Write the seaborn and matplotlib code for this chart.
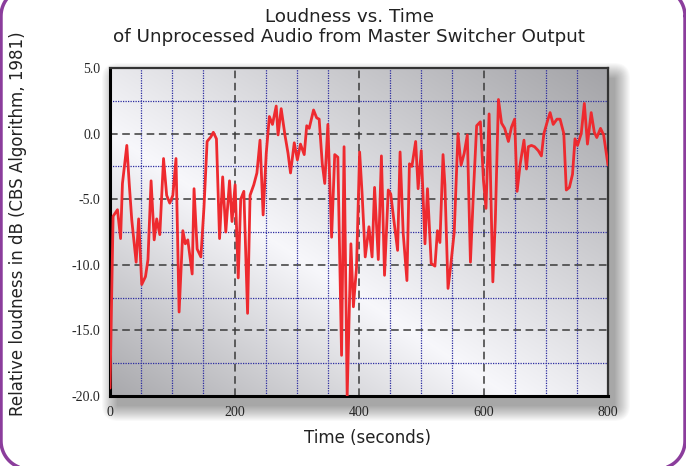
import numpy as np
import pandas as pd
import matplotlib
matplotlib.use("Agg")
import matplotlib.pyplot as plt
import seaborn as sns
from matplotlib.patches import FancyBboxPatch
from matplotlib.ticker import MultipleLocator, FuncFormatter

# Loudness trace (seconds, dB)
time_s = [0, 5, 12, 17, 20, 27, 31, 35, 42, 46, 51, 57, 61, 66, 71, 75, 80, 86, 91, 96,
          101, 106, 111, 117, 121, 125, 132, 135, 140, 146, 151, 156, 162, 166, 171, 176,
          181, 186, 192, 196, 201, 206, 210, 215, 221, 225, 231, 236, 241, 246, 251, 256,
          261, 267, 270, 275, 281, 286, 290, 296, 301, 306, 312, 316, 320, 327, 332, 336,
          341, 345, 350, 356, 361, 366, 372, 376, 381, 387, 391, 396, 401, 405, 410, 416,
          421, 425, 431, 436, 441, 447, 451, 456, 462, 466, 471, 477, 481, 485, 491, 495,
          500, 506, 510, 516, 522, 526, 530, 535, 538, 543, 547, 553, 559, 564, 569, 574,
          579, 584, 589, 595, 600, 604, 609, 615, 619, 624, 629, 634, 640, 645, 650, 654,
          659, 665, 669, 672, 677, 682, 688, 693, 697, 703, 707, 712, 718, 723, 729, 733,
          738, 743, 747, 751, 757, 762, 767, 773, 778, 782, 788, 793, 800]
loudness_db = [-19.4, -6.3, -5.8, -8.0, -3.8, -0.9, -3.9, -6.6, -9.8, -6.5, -11.5, -10.9,
               -9.6, -3.6, -8.1, -6.5, -7.7, -1.9, -4.7, -5.3, -4.7, -1.9, -13.6, -7.4,
               -8.4, -8.1, -10.7, -4.2, -8.8, -9.4, -5.6, -0.6, -0.25, 0.1, -0.4, -8.0,
               -3.3, -7.5, -3.6, -6.7, -3.9, -11.0, -5.0, -4.4, -13.7, -4.7, -3.9, -3.0,
               -0.5, -6.2, -1.5, 1.3, 0.7, 2.1, -0.1, 1.9, -0.1, -1.5, -3.0, -0.7, -2.0,
               -0.8, -1.6, 0.6, 0.4, 1.8, 1.2, 1.1, -2.3, -3.8, 0.7, -7.9, -1.6, -1.8,
               -16.9, -1.0, -20.0, -8.4, -13.2, -10.2, -1.4, -4.6, -9.4, -7.1, -9.4, -4.1,
               -9.6, -1.7, -10.8, -4.3, -4.6, -6.6, -8.9, -1.4, -7.6, -11.2, -2.3, -2.5,
               -0.6, -4.2, -1.3, -8.4, -4.2, -9.9, -10.1, -7.4, -8.3, -1.6, -3.9, -11.8,
               -10.2, -7.5, 0.0, -2.4, -1.5, -0.1, -9.8, -4.3, 0.6, 0.9, -3.6, -5.7, 1.5,
               -11.3, -6.6, 2.6, 0.8, 0.4, -0.6, 0.5, 1.1, -4.4, -2.3, -0.5, -2.7, -1.0,
               -0.9, -1.0, -1.3, -1.7, 0.0, 1.0, 1.6, 0.7, 1.1, 1.1, 0.0, -4.3, -4.1, -3.1,
               -0.4, -0.9, 0.0, 2.3, -0.8, 1.6, 0.1, -0.3, 0.4, -0.1, -2.4]

df = pd.DataFrame({"time": time_s, "loudness": loudness_db})

sns.set_style("white")
plt.rcParams["font.family"] = ["DejaVu Sans"]
plt.rcParams["axes.unicode_minus"] = False

W, H = 686, 466
fig = plt.figure(figsize=(W / 100, H / 100), dpi=100)
fig.patch.set_facecolor("white")

# pixel-space layer for shadow + purple frame
bg = fig.add_axes([0, 0, 1, 1], zorder=0)
bg.set_xlim(0, W)
bg.set_ylim(0, H)
bg.axis("off")

L, R, B, T = 110, 608, 70, 398
for i in range(16):
    bg.add_patch(FancyBboxPatch((L + 7 - i, B - 10 - i), (R - L) + 2 * i, (T - B) + 2 * i,
                                boxstyle=f"round,pad=0,rounding_size={i + 1}",
                                fc="black", ec="none", alpha=0.022))

# rounded purple frame, built from four quarter arcs
def rounded_outline(x0, y0, x1, y1, r):
    pts = []
    corners = [(x1 - r, y1 - r, 0), (x0 + r, y1 - r, 90), (x0 + r, y0 + r, 180), (x1 - r, y0 + r, 270)]
    for cx, cy, a0 in corners:
        a = np.radians(np.linspace(a0, a0 + 90, 20))
        pts.extend(zip(cx + r * np.cos(a), cy + r * np.sin(a)))
    pts.append(pts[0])
    return np.array(pts)

frame = rounded_outline(1, -3, 685, 478, 28)
bg.plot(frame[:, 0], frame[:, 1], color="#8b3d9c", lw=2.5, clip_on=False,
        solid_joinstyle="round")

ax = fig.add_axes([L / W, B / H, (R - L) / W, (T - B) / H], zorder=1)

# grey diagonal gradient behind the plot
u, v = np.meshgrid(np.linspace(0, 1, 240), np.linspace(0, 1, 160))
d = (u + v) / 2
g = np.interp(d, [0, 0.4, 1], [0.66, 0.97, 0.64])
img = np.dstack([g, g, np.minimum(g + 0.015, 1)])
ax.imshow(img, extent=[0, 800, -20, 5], origin="lower", aspect="auto",
          interpolation="bilinear", zorder=0)

sns.lineplot(data=df, x="time", y="loudness", ax=ax, color="#ee2a2f", lw=2,
             estimator=None, sort=False, zorder=3)

ax.set_xlim(0, 800)
ax.set_ylim(-20, 5)
ax.xaxis.set_major_locator(MultipleLocator(200))
ax.xaxis.set_minor_locator(MultipleLocator(50))
ax.yaxis.set_major_locator(MultipleLocator(5))
ax.yaxis.set_minor_locator(MultipleLocator(2.5))
ax.xaxis.set_major_formatter(FuncFormatter(lambda x, p: f"{x:.0f}"))
ax.yaxis.set_major_formatter(FuncFormatter(lambda y, p: f"{y:.1f}"))

ax.set_axisbelow(True)
ax.grid(which="major", color="#3a3a3a", ls=(0, (5, 3)), lw=1.1)
ax.grid(which="minor", color="#2b2ba0", ls=(0, (1, 1)), lw=0.9)

ax.tick_params(which="both", direction="in", color="black", width=1,
               labelsize=10, labelfontfamily="Liberation Serif", pad=7)
ax.tick_params(which="major", length=5)
ax.tick_params(which="minor", length=3)

for side in ["top", "right"]:
    ax.spines[side].set_color("#333333")
    ax.spines[side].set_linewidth(1.6)
for side in ["left", "bottom"]:
    ax.spines[side].set_color("black")
    ax.spines[side].set_linewidth(2.2)

ax.set_xlabel("Time (seconds)", fontsize=12, color="#222222")
ax.set_ylabel("Relative loudness in dB (CBS Algorithm, 1981)", fontsize=12, color="#222222")
ax.xaxis.set_label_coords(0.518, -0.1)
ax.yaxis.set_label_coords(-0.166, 0.524)

ax.set_title("Loudness vs. Time\nof Unprocessed Audio from Master Switcher Output",
             fontsize=13.2, color="#222222", x=0.48, pad=19, linespacing=1.12)

fig.savefig("out.png", dpi=100)
